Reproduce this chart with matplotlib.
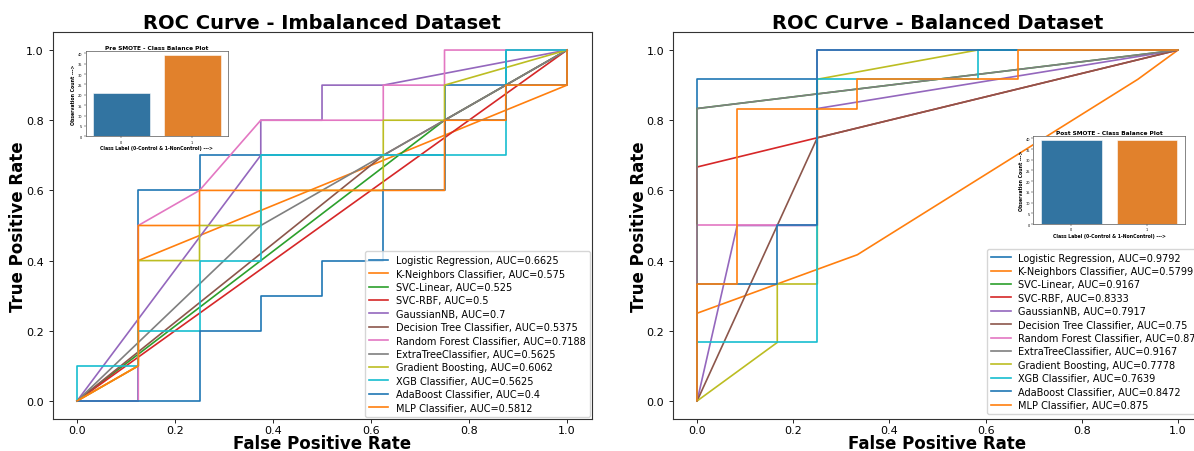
import matplotlib
matplotlib.use("Agg")
import matplotlib.pyplot as plt

models = ["Logistic Regression", "K-Neighbors Classifier", "SVC-Linear", "SVC-RBF",
          "GaussianNB", "Decision Tree Classifier", "Random Forest Classifier",
          "ExtraTreeClassifier", "Gradient Boosting", "XGB Classifier",
          "AdaBoost Classifier", "MLP Classifier"]

# ROC points (8 negatives, 10 positives)
imb_fpr = [
    [0, 0.125, 0.125, 0.25, 0.25, 0.75, 0.75, 0.875, 0.875, 1],
    [0, 0.125, 0.125, 1, 1],
    [0, 0.75, 1],
    [0, 1],
    [0, 0.375, 0.375, 0.5, 0.5, 0.625, 1],
    [0, 0.625, 1],
    [0, 0.125, 0.125, 0.25, 0.375, 0.625, 0.625, 0.75, 0.75, 1],
    [0, 0.375, 1],
    [0, 0.125, 0.125, 0.25, 0.25, 0.375, 0.375, 0.625, 0.625, 0.75, 0.75, 1],
    [0, 0, 0.125, 0.125, 0.25, 0.25, 0.375, 0.375, 0.875, 0.875, 1],
    [0, 0.25, 0.25, 0.375, 0.375, 0.5, 0.5, 0.625, 0.625, 0.75, 0.75, 0.875, 0.875, 1, 1],
    [0, 0.125, 0.125, 0.25, 0.25, 0.75, 0.75, 0.875, 0.875, 1, 1],
]
imb_tpr = [
    [0, 0, 0.6, 0.6, 0.7, 0.7, 0.9, 0.9, 1, 1],
    [0, 0.1, 0.4, 0.9, 1],
    [0, 0.8, 1],
    [0, 1],
    [0, 0.7, 0.8, 0.8, 0.9, 0.9, 1],
    [0, 0.7, 1],
    [0, 0, 0.5, 0.6, 0.8, 0.8, 0.9, 0.9, 1, 1],
    [0, 0.5, 1],
    [0, 0.1, 0.4, 0.4, 0.5, 0.5, 0.6, 0.6, 0.8, 0.8, 0.9, 1],
    [0, 0.1, 0.1, 0.2, 0.2, 0.4, 0.4, 0.7, 0.7, 1, 1],
    [0, 0, 0.2, 0.2, 0.3, 0.3, 0.4, 0.4, 0.6, 0.6, 0.8, 0.8, 0.9, 0.9, 1],
    [0, 0.1, 0.5, 0.5, 0.6, 0.6, 0.8, 0.8, 0.9, 0.9, 1],
]
imb_auc = ["0.6625", "0.575", "0.525", "0.5", "0.7", "0.5375", "0.7188",
           "0.5625", "0.6062", "0.5625", "0.4", "0.5812"]

# ROC points (12 negatives, 12 positives)
bal_fpr = [
    [0, 0, 0.25, 0.25, 1],
    [0, 0, 0.3333, 0.9167, 1],
    [0, 0, 1],
    [0, 0, 1],
    [0, 0.0833, 0.25, 0.25, 1],
    [0, 0.25, 1],
    [0, 0, 0.25, 0.25, 1],
    [0, 0, 1],
    [0, 0.1667, 0.1667, 0.25, 0.25, 0.5833, 1],
    [0, 0, 0.25, 0.25, 0.5833, 0.5833, 1],
    [0, 0, 0.1667, 0.1667, 0.25, 0.25, 1],
    [0, 0, 0.0833, 0.0833, 0.3333, 0.3333, 0.6667, 0.6667, 1],
]
bal_tpr = [
    [0, 0.9167, 0.9167, 1, 1],
    [0, 0.25, 0.4167, 0.9167, 1],
    [0, 0.8333, 1],
    [0, 0.6667, 1],
    [0, 0.5, 0.5, 0.8333, 1],
    [0, 0.75, 1],
    [0, 0.5, 0.5, 1, 1],
    [0, 0.8333, 1],
    [0, 0.1667, 0.3333, 0.3333, 0.9167, 1, 1],
    [0, 0.1667, 0.1667, 0.9167, 0.9167, 1, 1],
    [0, 0.3333, 0.3333, 0.5, 0.5, 1, 1],
    [0, 0.3333, 0.3333, 0.8333, 0.8333, 0.9167, 0.9167, 1, 1],
]
bal_auc = ["0.9792", "0.5799", "0.9167", "0.8333", "0.7917", "0.75", "0.875",
           "0.9167", "0.7778", "0.7639", "0.8472", "0.875"]

class_labels = ["0", "1"]
pre_counts = [21, 39]
post_counts = [39, 39]
bar_colors = ["#3274a1", "#e1812c"]

fig = plt.figure(figsize=(11.94, 4.52), dpi=100)


def roc_panel(rect, fprs, tprs, aucs, title, leg_kw):
    ax = fig.add_axes(rect)
    for name, f, t, a in zip(models, fprs, tprs, aucs):
        ax.plot(f, t, lw=1.2, label=f"{name}, AUC={a}")
    ax.set_xlim(-0.05, 1.05)
    ax.set_ylim(-0.05, 1.05)
    ax.set_title(title, fontsize=14, fontweight="bold", pad=3)
    ax.set_xlabel("False Positive Rate", fontsize=12, fontweight="bold", labelpad=-1)
    ax.set_ylabel("True Positive Rate", fontsize=12, fontweight="bold", labelpad=-1)
    ax.tick_params(labelsize=8, length=3, width=0.6)
    ax.tick_params(axis="x", pad=2)
    for s in ax.spines.values():
        s.set_linewidth(0.8)
        s.set_color("#333333")
    ax.legend(fontsize=7.0, labelspacing=0.35, handlelength=2.0,
              borderpad=0.4, **leg_kw)
    return ax


def balance_inset(rect, counts, title):
    ax = fig.add_axes(rect)
    ax.bar(class_labels, counts, width=0.8, color=bar_colors,
           edgecolor="white", linewidth=0.4)
    ax.set_xlim(-0.5, 1.5)
    ax.set_ylim(0, max(counts) * 1.05)
    ax.set_yticks(range(0, 41, 5))
    ax.set_title(title, fontsize=4.2, fontweight="bold", pad=2)
    ax.set_xlabel("Class Label (0-Control & 1-NonControl) --->", fontsize=3.3,
                  fontweight="bold", labelpad=1)
    ax.set_ylabel("Observation Count --->", fontsize=3.3, fontweight="bold", labelpad=1)
    ax.tick_params(labelsize=2.5, length=1.5, width=0.3, pad=1)
    for s in ax.spines.values():
        s.set_linewidth(0.5)
        s.set_color("#555555")
    return ax


roc_panel([0.0440, 0.0719, 0.4514, 0.854], imb_fpr, imb_tpr, imb_auc,
          "ROC Curve - Imbalanced Dataset",
          dict(loc="lower right", borderaxespad=0.2))
roc_panel([0.5637, 0.0719, 0.4430, 0.854], bal_fpr, bal_tpr, bal_auc,
          "ROC Curve - Balanced Dataset",
          dict(loc="lower left", bbox_to_anchor=(0.594, 0.012), borderaxespad=0))

balance_inset([0.0718, 0.6962, 0.1189, 0.1881], pre_counts, "Pre SMOTE - Class Balance Plot")
balance_inset([0.8654, 0.5022, 0.1271, 0.194], post_counts, "Post SMOTE - Class Balance Plot")

fig.savefig("out.png", dpi=100)
